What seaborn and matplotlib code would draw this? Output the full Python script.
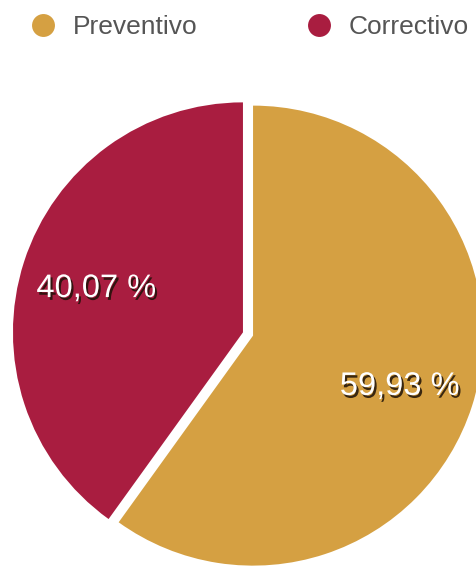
"""Pie chart: Preventivo vs Correctivo maintenance share."""

import matplotlib

matplotlib.use("Agg")

import matplotlib.patheffects as pe
import matplotlib.pyplot as plt
import seaborn as sns
from matplotlib.lines import Line2D

categories = ["Preventivo", "Correctivo"]
shares = [59.93, 40.07]
colors = ["#D5A042", "#A91D40"]

sns.set_theme(style="white")
plt.rcParams["font.family"] = ["Liberation Sans", "DejaVu Sans"]

W, H = 476, 568
fig = plt.figure(figsize=(W / 100, H / 100), dpi=100)
ax = fig.add_axes([0, 0, 1, 1])


def fmt_pct(p):
    return f"{p:.2f} %".replace(".", ",")


# explode is in data units here (pixels), since radius is not 1
wedges, texts, autotexts = ax.pie(
    shares,
    colors=colors,
    startangle=90,
    counterclock=False,
    center=(248, H - 334),
    radius=230,
    explode=[5.3, 5.3],
    autopct=fmt_pct,
    pctdistance=0.67,
    wedgeprops={"linewidth": 0},
    frame=True,
)
ax.set_xlim(0, W)
ax.set_ylim(0, H)
ax.set_aspect("equal")
ax.axis("off")

for t in autotexts:
    t.set_color("white")
    t.set_fontsize(23.5)
    t.set_verticalalignment("center_baseline")
    t.set_path_effects([
        pe.SimplePatchShadow(offset=(1.5, -2), shadow_rgbFace="#1e1208", alpha=0.85),
        pe.Normal(),
    ])

handles = [
    Line2D([], [], marker="o", linestyle="none", markersize=16.5,
           markerfacecolor=c, markeredgewidth=0)
    for c in colors
]
fig.legend(
    handles,
    categories,
    loc="center left",
    bbox_to_anchor=(30 / W, 1 - 27 / H),
    ncol=2,
    frameon=False,
    fontsize=19,
    labelcolor="#555555",
    handlelength=1.0,
    handletextpad=0.62,
    columnspacing=4.1,
    borderpad=0,
    borderaxespad=0,
)

fig.savefig("out.png", dpi=100)
